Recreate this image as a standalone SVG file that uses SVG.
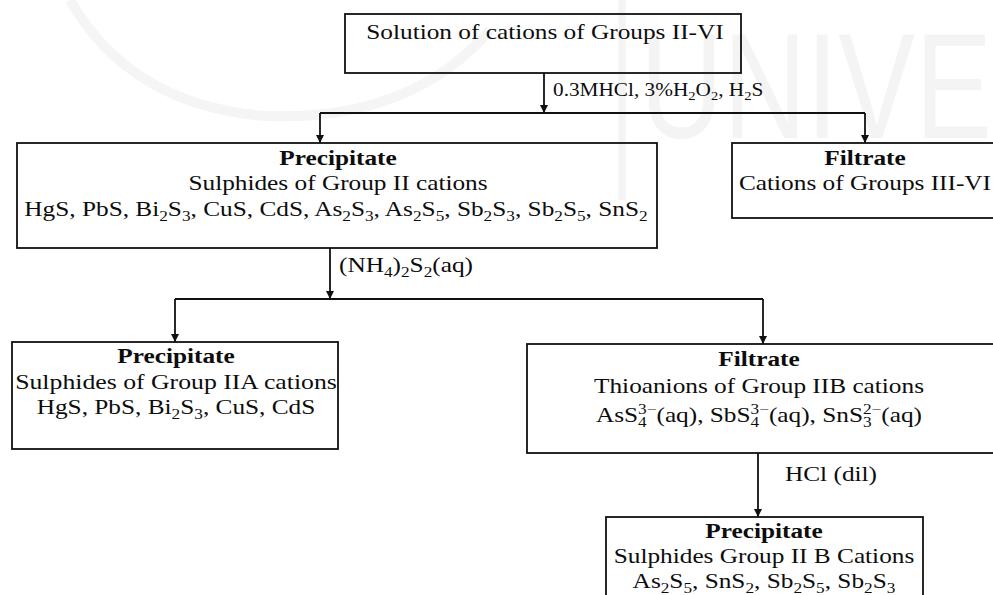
<svg xmlns="http://www.w3.org/2000/svg" width="993" height="595" viewBox="0 0 993 595">
  <defs>
    <marker id="arrow" viewBox="0 0 10 10" refX="10" refY="5" markerWidth="8" markerHeight="9" markerUnits="userSpaceOnUse" orient="auto">
      <path d="M0,0 L10,5 L0,10 Z" fill="#111"/>
    </marker>
    <style>
      .box { fill: none; stroke: #111; stroke-width: 1.8; }
      .wire { fill: none; stroke: #111; stroke-width: 1.8; }
      .go { marker-end: url(#arrow); }
      .t { font-family: "Liberation Serif", "Times New Roman", serif; font-size: 22px; fill: #0d0d0d; text-anchor: middle; }
      .lbl { font-family: "Liberation Serif", "Times New Roman", serif; font-size: 22px; fill: #0d0d0d; }
      .b { font-weight: bold; }
      .s { font-size: 15px; }
      .s2 { font-size: 13px; }
      .wm { fill: none; stroke: #f5f5f5; stroke-width: 10; }
      .wmt { font-family: "Liberation Sans", Arial, sans-serif; font-size: 150px; fill: #f4f4f4; }
    </style>
  </defs>

  <rect width="993" height="595" fill="#fff"/>

  <!-- faint background emblem -->
  <g id="emblem">
    <path class="wm" d="M70,0 Q130,105 265,116 Q410,122 490,30"/>
    <line x1="622" y1="0" x2="622" y2="200" stroke="#f4f4f4" stroke-width="7"/>
    <text class="wmt" x="640" y="138" textLength="352" lengthAdjust="spacingAndGlyphs">UNIVE</text>
  </g>

  <!-- connectors -->
  <g id="connectors">
    <line class="wire go" x1="544" y1="73" x2="544" y2="113"/>
    <line class="wire" x1="320" y1="113" x2="865" y2="113"/>
    <line class="wire go" x1="320" y1="113" x2="320" y2="143"/>
    <line class="wire go" x1="865" y1="113" x2="865" y2="143"/>

    <line class="wire go" x1="330" y1="248" x2="330" y2="299"/>
    <line class="wire" x1="175" y1="299" x2="763" y2="299"/>
    <line class="wire go" x1="175" y1="299" x2="175" y2="342"/>
    <line class="wire go" x1="763" y1="299" x2="763" y2="344"/>

    <line class="wire go" x1="758" y1="453" x2="758" y2="517"/>

    <text class="lbl" transform="translate(553,96) scale(1.12,1)" style="font-size:19px">0.3MHCl, 3%H<tspan class="s2" dy="4">2</tspan><tspan dy="-4">O</tspan><tspan class="s2" dy="4">2</tspan><tspan dy="-4">, H</tspan><tspan class="s2" dy="4">2</tspan><tspan dy="-4">S</tspan></text>
    <text class="lbl" transform="translate(339,272) scale(1.15,1)">(NH<tspan class="s" dy="5">4</tspan><tspan dy="-5">)</tspan><tspan class="s" dy="5">2</tspan><tspan dy="-5">S</tspan><tspan class="s" dy="5">2</tspan><tspan dy="-5">(aq)</tspan></text>
    <text class="lbl" transform="translate(785,481) scale(1.15,1)">HCl (dil)</text>
  </g>

  <!-- starting solution -->
  <g id="solution">
    <rect class="box" x="345" y="14" width="396" height="59"/>
    <text class="t" transform="translate(545,39) scale(1.15,1)">Solution of cations of Groups II-VI</text>
  </g>

  <!-- group II precipitate -->
  <g id="precipitate-ii">
    <rect class="box" x="17" y="143" width="640" height="105"/>
    <text class="t b" transform="translate(338,165) scale(1.15,1)">Precipitate</text>
    <text class="t" transform="translate(338,190) scale(1.15,1)">Sulphides of Group II cations</text>
    <text class="t" transform="translate(336,216) scale(1.15,1)">HgS, PbS, Bi<tspan class="s" dy="5">2</tspan><tspan dy="-5">S</tspan><tspan class="s" dy="5">3</tspan><tspan dy="-5">, CuS, CdS, As</tspan><tspan class="s" dy="5">2</tspan><tspan dy="-5">S</tspan><tspan class="s" dy="5">3</tspan><tspan dy="-5">, As</tspan><tspan class="s" dy="5">2</tspan><tspan dy="-5">S</tspan><tspan class="s" dy="5">5</tspan><tspan dy="-5">, Sb</tspan><tspan class="s" dy="5">2</tspan><tspan dy="-5">S</tspan><tspan class="s" dy="5">3</tspan><tspan dy="-5">, Sb</tspan><tspan class="s" dy="5">2</tspan><tspan dy="-5">S</tspan><tspan class="s" dy="5">5</tspan><tspan dy="-5">, SnS</tspan><tspan class="s" dy="5">2</tspan></text>
  </g>

  <!-- filtrate groups III-VI -->
  <g id="filtrate-iii-vi">
    <rect class="box" x="732" y="143" width="270" height="75"/>
    <text class="t b" transform="translate(865,165) scale(1.15,1)">Filtrate</text>
    <text class="t" transform="translate(865,190) scale(1.15,1)">Cations of Groups III-VI</text>
  </g>

  <!-- group IIA precipitate -->
  <g id="precipitate-iia">
    <rect class="box" x="12" y="342" width="326" height="107"/>
    <text class="t b" transform="translate(176,363) scale(1.15,1)">Precipitate</text>
    <text class="t" transform="translate(176,389) scale(1.17,1)">Sulphides of Group IIA cations</text>
    <text class="t" transform="translate(176,414) scale(1.15,1)">HgS, PbS, Bi<tspan class="s" dy="5">2</tspan><tspan dy="-5">S</tspan><tspan class="s" dy="5">3</tspan><tspan dy="-5">, CuS, CdS</tspan></text>
  </g>

  <!-- group IIB filtrate -->
  <g id="filtrate-iib">
    <rect class="box" x="527" y="344" width="475" height="109"/>
    <text class="t b" transform="translate(759,366) scale(1.15,1)">Filtrate</text>
    <text class="t" transform="translate(759,393) scale(1.15,1)">Thioanions of Group IIB cations</text>
    <text class="t" transform="translate(759,422) scale(1.15,1)">AsS<tspan class="s" dy="5">4</tspan><tspan class="s" dx="-7.5" dy="-13">3−</tspan><tspan dy="8">(aq), SbS</tspan><tspan class="s" dy="5">4</tspan><tspan class="s" dx="-7.5" dy="-13">3−</tspan><tspan dy="8">(aq), SnS</tspan><tspan class="s" dy="5">3</tspan><tspan class="s" dx="-7.5" dy="-13">2−</tspan><tspan dy="8">(aq)</tspan></text>
  </g>

  <!-- group IIB precipitate -->
  <g id="precipitate-iib">
    <rect class="box" x="606" y="517" width="317" height="90"/>
    <text class="t b" transform="translate(764,538) scale(1.15,1)">Precipitate</text>
    <text class="t" transform="translate(764,563) scale(1.15,1)">Sulphides Group II B Cations</text>
    <text class="t" transform="translate(764,588) scale(1.15,1)">As<tspan class="s" dy="5">2</tspan><tspan dy="-5">S</tspan><tspan class="s" dy="5">5</tspan><tspan dy="-5">, SnS</tspan><tspan class="s" dy="5">2</tspan><tspan dy="-5">, Sb</tspan><tspan class="s" dy="5">2</tspan><tspan dy="-5">S</tspan><tspan class="s" dy="5">5</tspan><tspan dy="-5">, Sb</tspan><tspan class="s" dy="5">2</tspan><tspan dy="-5">S</tspan><tspan class="s" dy="5">3</tspan></text>
  </g>
</svg>
